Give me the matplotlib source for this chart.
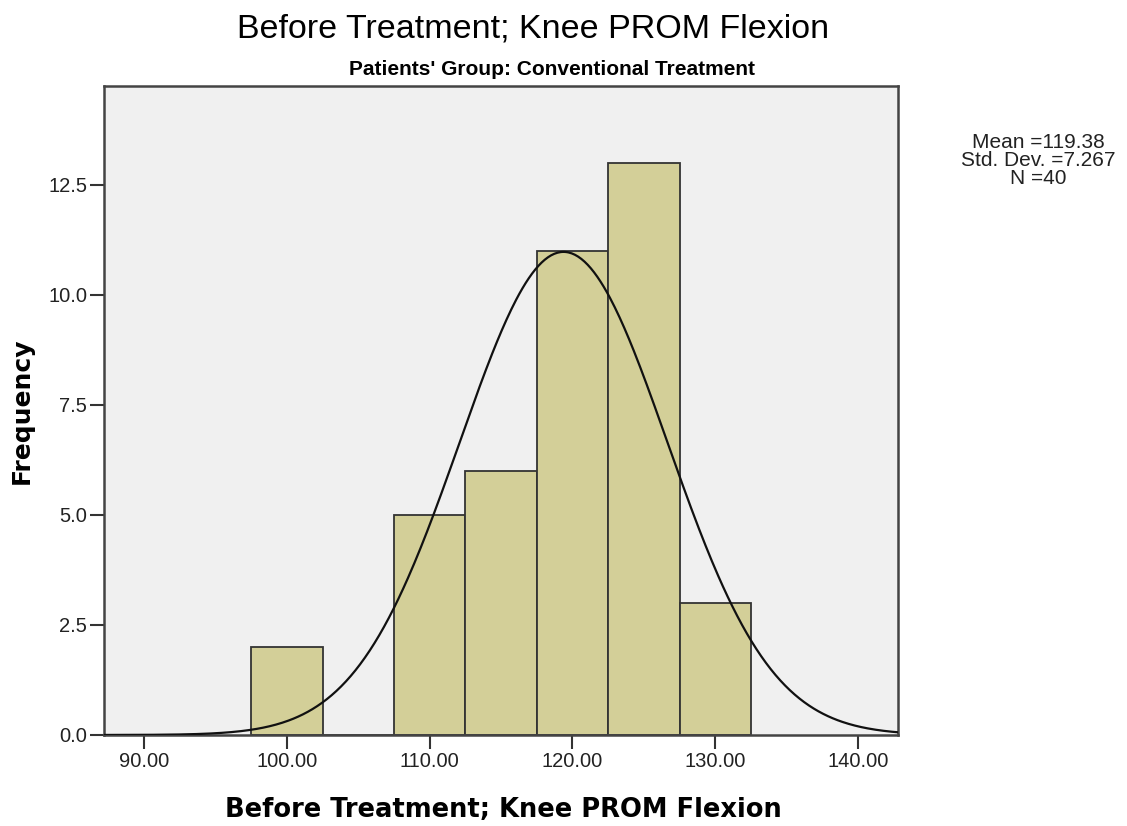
import numpy as np
import matplotlib.pyplot as plt

plt.rcParams['font.family'] = ['Liberation Sans', 'DejaVu Sans']

# Binned counts (bin centres every 5 degrees)
bin_centers = [100, 105, 110, 115, 120, 125, 130]
counts = [2, 0, 5, 6, 11, 13, 3]
bin_width = 5
mean = 119.38
std_dev = 7.267
n = 40

x_ticks = [90, 100, 110, 120, 130, 140]
y_ticks = [0.0, 2.5, 5.0, 7.5, 10.0, 12.5]

fig = plt.figure(figsize=(11.27, 8.26), dpi=100)
ax = fig.add_axes([0.0923, 0.1102, 0.7045, 0.7857])
ax.set_facecolor('#f0f0f0')

ax.bar(bin_centers, counts, width=bin_width, color='#d3cf98',
       edgecolor='#333333', linewidth=1.3, zorder=2)

# Normal curve scaled to the histogram
xs = np.linspace(87.2, 142.8, 500)
ys = n * bin_width * np.exp(-0.5 * ((xs - mean) / std_dev) ** 2) / (std_dev * np.sqrt(2 * np.pi))
ax.plot(xs, ys, color='#111111', linewidth=1.6, zorder=3)

ax.set_xlim(87.2, 142.8)
ax.set_ylim(0, 14.75)
ax.set_xticks(x_ticks)
ax.set_xticklabels([f'{v:.2f}' for v in x_ticks])
ax.set_yticks(y_ticks)
ax.set_yticklabels([f'{v:.1f}' for v in y_ticks])
ax.tick_params(direction='out', length=10, width=1.5, color='#333333',
               labelsize=14.5, labelcolor='#222222', pad=2)

for side in ['left', 'right', 'top', 'bottom']:
    ax.spines[side].set_color('#444444')
    ax.spines[side].set_linewidth(1.8)

# Axis titles
fig.text(0.447, 0.0105, 'Before Treatment; Knee PROM Flexion', fontsize=18.5,
         fontweight='bold', family='DejaVu Sans', ha='center', va='baseline')
fig.text(0.0195, 0.503, 'Frequency', fontsize=18, fontweight='bold',
         family='DejaVu Sans', rotation=90, ha='center', va='center')

fig.text(0.473, 0.954, 'Before Treatment; Knee PROM Flexion', fontsize=24.5,
         ha='center', va='baseline')
fig.text(0.49, 0.909, "Patients' Group: Conventional Treatment", fontsize=15,
         fontweight='bold', ha='center', va='baseline')

fig.text(0.921, 0.806, f'Mean ={mean:.2f}\nStd. Dev. ={std_dev:.3f}\nN ={n}',
         fontsize=15, ha='center', va='center', linespacing=0.93,
         color='#222222')

fig.savefig('out.png', dpi=100)
